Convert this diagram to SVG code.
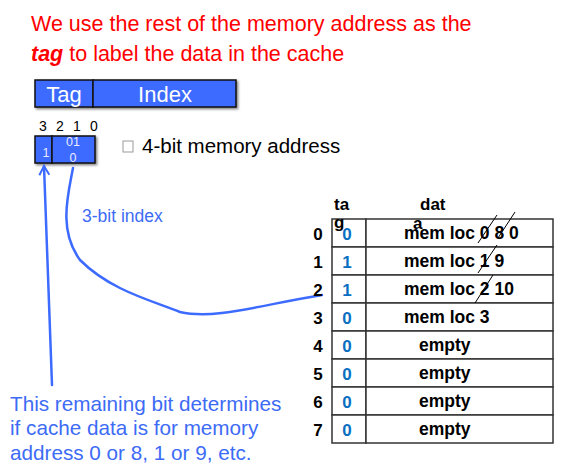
<svg xmlns="http://www.w3.org/2000/svg" width="564" height="474" viewBox="0 0 564 474">
<style>
.title{font-family:"Liberation Sans",Arial,sans-serif;font-size:21.5px;fill:#ff0000}
.bar{fill:#3d6bff;stroke:#111;stroke-width:1.5}
.barT{font-family:"Liberation Sans",Arial,sans-serif;font-size:22px;fill:#ffffff;text-anchor:middle}
.bit{font-family:"Liberation Sans",Arial,sans-serif;font-size:14px;fill:#000}
.small{font-family:"Liberation Sans",Arial,sans-serif;font-size:12.5px;fill:#e8ecff;text-anchor:middle}
.lbl{font-family:"Liberation Sans",Arial,sans-serif;font-size:20.5px;fill:#000}
.blue{font-family:"Liberation Sans",Arial,sans-serif;fill:#3d6bf5}
.hdr{font-family:"Liberation Sans",Arial,sans-serif;font-size:17px;font-weight:bold;fill:#000}
.row{font-family:"Liberation Sans",Arial,sans-serif;font-size:17px;font-weight:bold;fill:#000;text-anchor:middle}
.tagv{font-family:"Liberation Sans",Arial,sans-serif;font-size:17px;font-weight:bold;fill:#0a6fc2;text-anchor:middle}
.dat{font-family:"Liberation Sans",Arial,sans-serif;font-size:17.5px;font-weight:bold;fill:#000}
.cell{fill:#fff;stroke:#333;stroke-width:1.5}
.conn{fill:none;stroke:#3d6bff;stroke-width:2.5;stroke-linecap:round}
.strike{stroke:#000;stroke-width:1}
</style>
<defs>
<marker id="arr" markerWidth="12" markerHeight="12" refX="10" refY="6" orient="auto" markerUnits="userSpaceOnUse">
<path d="M1,1 L10,6 L1,11" fill="none" stroke="#3d6bff" stroke-width="2"/>
</marker>
<filter id="sh" x="-10%" y="-10%" width="130%" height="140%">
<feDropShadow dx="1.5" dy="1.5" stdDeviation="0.8" flood-color="#000" flood-opacity="0.5"/>
</filter>
</defs>

<g id="title">
<text class="title" x="31" y="31">We use the rest of the memory address as the</text>
<text class="title" x="31" y="61"><tspan font-weight="bold" font-style="italic">tag</tspan> to label the data in the cache</text>
</g>

<g id="tag-index-bar" filter="url(#sh)">
<rect class="bar" x="35" y="80" width="58" height="27"/>
<rect class="bar" x="93" y="80" width="143" height="27"/>
</g>
<g id="tag-index-labels">
<text class="barT" x="64" y="102">Tag</text>
<text class="barT" x="165" y="102">Index</text>
</g>

<g id="bit-numbers">
<text class="bit" x="39" y="131">3</text>
<text class="bit" x="56" y="131">2</text>
<text class="bit" x="73" y="131">1</text>
<text class="bit" x="90" y="131">0</text>
</g>

<g id="address-box">
<g filter="url(#sh)">
<rect class="bar" x="35" y="136" width="17" height="27"/>
<rect class="bar" x="52" y="136" width="43" height="27"/>
</g>
<text class="small" x="46" y="157">1</text>
<text class="small" x="73" y="146">01</text>
<text class="small" x="73" y="162">0</text>
</g>

<g id="address-label">
<rect x="123" y="141" width="10" height="11" fill="none" stroke="#999" stroke-width="1"/>
<text class="lbl" x="142" y="153">4-bit memory address</text>
</g>

<g id="index-label">
<text class="blue" x="82" y="222" font-size="17.5">3-bit index</text>
</g>

<g id="note">
<text class="blue" x="10" y="411" font-size="20.7">This remaining bit determines</text>
<text class="blue" x="10" y="435" font-size="20.7">if cache data is for memory</text>
<text class="blue" x="10" y="460" font-size="20.7">address 0 or 8, 1 or 9, etc.</text>
</g>

<g id="connectors">
<path class="conn" d="M52,385 L44,166" marker-end="url(#arr)"/>
<path class="conn" d="M73,168 C68,195 58,230 80,260 C110,290 150,300 180,312 C215,320 260,305 322,295"/>
</g>

<g id="cache-table">
<text class="hdr" x="334" y="210">ta</text>
<text class="hdr" x="420" y="210">dat</text>
<g id="rows">
<rect class="cell" x="332" y="219" width="34" height="28"/><rect class="cell" x="366" y="219" width="187" height="28"/>
<rect class="cell" x="332" y="247" width="34" height="28"/><rect class="cell" x="366" y="247" width="187" height="28"/>
<rect class="cell" x="332" y="275" width="34" height="28"/><rect class="cell" x="366" y="275" width="187" height="28"/>
<rect class="cell" x="332" y="303" width="34" height="28"/><rect class="cell" x="366" y="303" width="187" height="28"/>
<rect class="cell" x="332" y="331" width="34" height="28"/><rect class="cell" x="366" y="331" width="187" height="28"/>
<rect class="cell" x="332" y="359" width="34" height="28"/><rect class="cell" x="366" y="359" width="187" height="28"/>
<rect class="cell" x="332" y="387" width="34" height="28"/><rect class="cell" x="366" y="387" width="187" height="28"/>
<rect class="cell" x="332" y="415" width="34" height="28"/><rect class="cell" x="366" y="415" width="187" height="28"/>
</g>
<text class="hdr" x="334" y="228">g</text>
<text class="hdr" x="413" y="229">a</text>
<g id="row-labels">
<text class="row" x="318" y="240">0</text>
<text class="row" x="318" y="268">1</text>
<text class="row" x="318" y="296">2</text>
<text class="row" x="318" y="324">3</text>
<text class="row" x="318" y="352">4</text>
<text class="row" x="318" y="380">5</text>
<text class="row" x="318" y="408">6</text>
<text class="row" x="318" y="436">7</text>
</g>
<g id="tag-values">
<text class="tagv" x="347" y="240">0</text>
<text class="tagv" x="347" y="268">1</text>
<text class="tagv" x="347" y="296">1</text>
<text class="tagv" x="347" y="324">0</text>
<text class="tagv" x="347" y="352">0</text>
<text class="tagv" x="347" y="380">0</text>
<text class="tagv" x="347" y="408">0</text>
<text class="tagv" x="347" y="436">0</text>
</g>
<g id="data-values">
<text class="dat" x="404" y="239">mem loc 0 8 0</text>
<text class="dat" x="404" y="267">mem loc 1 9</text>
<text class="dat" x="404" y="295">mem loc 2 10</text>
<text class="dat" x="404" y="323">mem loc 3</text>
<text class="dat" x="419" y="351">empty</text>
<text class="dat" x="419" y="379">empty</text>
<text class="dat" x="419" y="407">empty</text>
<text class="dat" x="419" y="435">empty</text>
</g>
<g id="strikes">
<line class="strike" x1="478" y1="243" x2="497" y2="215"/>
<line class="strike" x1="498" y1="238" x2="515" y2="212"/>
<line class="strike" x1="478" y1="273" x2="497" y2="245"/>
<line class="strike" x1="475" y1="303" x2="493" y2="275"/>
</g>
</g>
</svg>
